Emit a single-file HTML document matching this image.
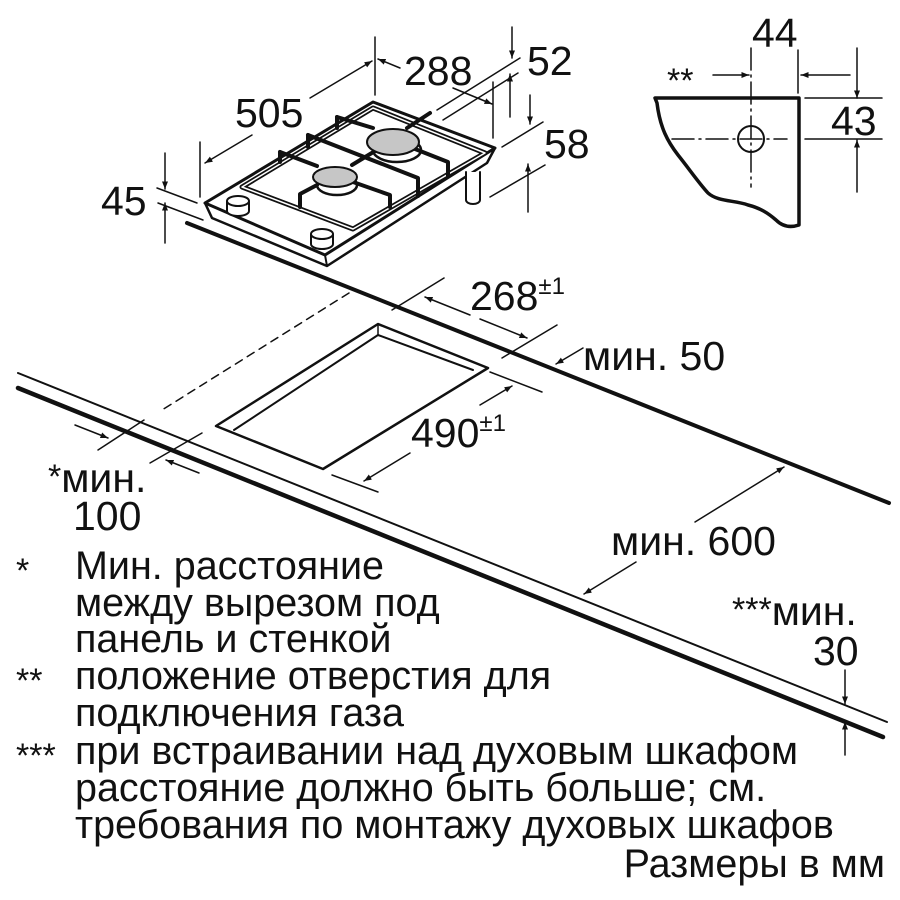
<!DOCTYPE html>
<html><head><meta charset="utf-8"><style>
html,body{margin:0;padding:0;background:#fff}
svg{display:block}
text{font-family:"Liberation Sans",Arial,sans-serif;fill:#111}
</style></head><body>
<svg width="900" height="900" viewBox="0 0 900 900" xmlns="http://www.w3.org/2000/svg">
<defs>
<marker id="a" viewBox="0 0 10 10" refX="10" refY="5" markerWidth="5" markerHeight="5" orient="auto" markerUnits="strokeWidth"><path d="M0,1 L10,5 L0,9 z" fill="#111"/></marker>
</defs>
<g stroke="#111" fill="none" stroke-linecap="round" stroke-linejoin="round">
<line x1="187" y1="223" x2="889" y2="503" stroke-width="4"/>
<line x1="18" y1="373" x2="887" y2="722" stroke-width="2"/>
<line x1="18" y1="388" x2="883" y2="737" stroke-width="4.5"/>
<polygon points="378,324 488,368 323,469 216,426" stroke-width="2.5"/>
<polyline points="234,430 378,335 473,370" stroke-width="2"/>
<line x1="378" y1="324" x2="378" y2="335" stroke-width="1.5"/>
<line x1="349" y1="293" x2="162" y2="410" stroke-width="1.5" stroke-dasharray="8,6"/>
<line x1="144" y1="420" x2="98" y2="450" stroke-width="1.5"/>
<line x1="202" y1="433" x2="150" y2="463" stroke-width="1.5"/>
<line x1="75" y1="425" x2="108" y2="438" stroke-width="1.5" marker-end="url(#a)"/>
<line x1="199" y1="473" x2="166" y2="460" stroke-width="1.5" marker-end="url(#a)"/>
<line x1="444" y1="278" x2="392" y2="310" stroke-width="1.5"/>
<line x1="557" y1="325" x2="502" y2="358" stroke-width="1.5"/>
<line x1="470" y1="315" x2="425" y2="297" stroke-width="1.5" marker-end="url(#a)"/>
<line x1="480" y1="319" x2="527" y2="338" stroke-width="1.5" marker-end="url(#a)"/>
<line x1="583" y1="348" x2="556" y2="364" stroke-width="1.5" marker-end="url(#a)"/>
<line x1="490" y1="372" x2="542" y2="392" stroke-width="1.5"/>
<line x1="332" y1="475" x2="378" y2="492" stroke-width="1.5"/>
<line x1="480" y1="405" x2="512" y2="386" stroke-width="1.5" marker-end="url(#a)"/>
<line x1="410" y1="453" x2="364" y2="481" stroke-width="1.5" marker-end="url(#a)"/>
<line x1="695" y1="522" x2="784" y2="467" stroke-width="1.5" marker-end="url(#a)"/>
<line x1="636" y1="562" x2="584" y2="594" stroke-width="1.5" marker-end="url(#a)"/>
<line x1="845" y1="670" x2="845" y2="704" stroke-width="1.5" marker-end="url(#a)"/>
<line x1="845" y1="755" x2="845" y2="722" stroke-width="1.5" marker-end="url(#a)"/>

<polygon points="205,203 373,102 495,148 325,255" stroke-width="3" fill="#fff"/>
<polyline points="205,203 212,218 327,266 487,163 495,148" stroke-width="2.5"/>
<line x1="325" y1="255" x2="327" y2="266" stroke-width="2"/>
<polygon points="242,187 373,108 485,153 353,229" stroke-width="5"/>
<polygon points="242,187 373,108 485,153 353,229" stroke-width="1.5" stroke="#fff"/>
<g stroke-width="4">
<polyline points="280,152 317,166"/>
<polyline points="308,135 418,178 418,196"/>
<polyline points="337,117 373,128"/>
<polyline points="430,113 407,128"/>
<polyline points="410,147 448,162 448,176"/>
<polyline points="380,148 352,165"/>
<polyline points="300,207 300,194 317,185"/>
<polyline points="353,182 390,195 390,207"/>
<line x1="280" y1="152" x2="280" y2="162"/>
<line x1="308" y1="135" x2="308" y2="147"/>
<line x1="337" y1="117" x2="337" y2="128"/>
</g>
<ellipse cx="397" cy="150" rx="24" ry="12" stroke-width="2.5"/>
<ellipse cx="393" cy="142" rx="26" ry="13" fill="#c6c6c6" stroke-width="2"/>
<ellipse cx="337" cy="185" rx="20" ry="10" stroke-width="2.5"/>
<ellipse cx="335" cy="177" rx="22" ry="10" fill="#c6c6c6" stroke-width="2"/>
<path d="M227,201 v10 a11,5 0 0 0 22,0 v-10" fill="#fff" stroke-width="2"/>
<ellipse cx="238" cy="201" rx="11" ry="5" fill="#fff" stroke-width="2"/>
<path d="M311,234 v10 a11,5 0 0 0 22,0 v-10" fill="#fff" stroke-width="2"/>
<ellipse cx="322" cy="234" rx="11" ry="5" fill="#fff" stroke-width="2"/>
<path d="M466,172 v28 a7,4 0 0 0 14,0 v-28" fill="#fff" stroke-width="2"/>
<line x1="200" y1="142" x2="200" y2="197" stroke-width="1.5"/>
<line x1="252" y1="135" x2="205" y2="163" stroke-width="1.5" marker-end="url(#a)"/>
<line x1="310" y1="98" x2="372" y2="61" stroke-width="1.5" marker-end="url(#a)"/>
<line x1="375" y1="37" x2="375" y2="95" stroke-width="1.5"/>
<line x1="400" y1="68" x2="378" y2="59" stroke-width="1.5" marker-end="url(#a)"/>
<line x1="453" y1="88" x2="492" y2="104" stroke-width="1.5" marker-end="url(#a)"/>
<line x1="493" y1="82" x2="493" y2="138" stroke-width="1.5"/>
<line x1="437" y1="110" x2="520" y2="58" stroke-width="1.5"/>
<line x1="443" y1="120" x2="518" y2="73" stroke-width="1.5"/>
<line x1="512" y1="27" x2="512" y2="58" stroke-width="1.5" marker-end="url(#a)"/>
<line x1="510" y1="117" x2="510" y2="74" stroke-width="1.5" marker-end="url(#a)"/>
<line x1="502" y1="147" x2="543" y2="122" stroke-width="1.5"/>
<line x1="490" y1="197" x2="545" y2="165" stroke-width="1.5"/>
<line x1="530" y1="95" x2="530" y2="124" stroke-width="1.5" marker-end="url(#a)"/>
<line x1="528" y1="212" x2="528" y2="164" stroke-width="1.5" marker-end="url(#a)"/>
<line x1="157" y1="188" x2="197" y2="203" stroke-width="1.5"/>
<line x1="158" y1="203" x2="203" y2="220" stroke-width="1.5"/>
<line x1="165" y1="153" x2="165" y2="189" stroke-width="1.5" marker-end="url(#a)"/>
<line x1="165" y1="243" x2="165" y2="203" stroke-width="1.5" marker-end="url(#a)"/>

<path d="M655,98 L799,98 L799,225 C790,228 782,226 776,220 C768,213 760,208 748,205 C735,200 718,202 708,193 C698,182 690,170 678,155 C668,142 660,128 657,103 Z" stroke-width="3.5"/>
<circle cx="751" cy="139" r="13" stroke-width="2"/>
<line x1="751" y1="48" x2="751" y2="187" stroke-width="1.5" stroke-dasharray="22,5,2,5"/>
<line x1="672" y1="139" x2="787" y2="139" stroke-width="1.5" stroke-dasharray="22,5,2,5"/>
<line x1="805" y1="139" x2="882" y2="139" stroke-width="1.5"/>
<line x1="805" y1="98" x2="882" y2="98" stroke-width="1.5"/>
<line x1="798" y1="50" x2="798" y2="93" stroke-width="1.5"/>
<line x1="713" y1="75" x2="749" y2="75" stroke-width="1.5" marker-end="url(#a)"/>
<line x1="850" y1="75" x2="801" y2="75" stroke-width="1.5" marker-end="url(#a)"/>
<line x1="857" y1="48" x2="857" y2="98" stroke-width="1.5" marker-end="url(#a)"/>
<line x1="857" y1="192" x2="857" y2="140" stroke-width="1.5" marker-end="url(#a)"/>
</g>

<g font-size="41">
<text x="404" y="85">288</text>
<text x="527" y="75">52</text>
<text x="235" y="127">505</text>
<text x="544" y="158">58</text>
<text x="101" y="215">45</text>
<text x="752" y="47">44</text>
<text x="831" y="135">43</text>
<text x="667" y="92" font-size="34">**</text>
<text x="470" y="310">268<tspan font-size="24" dy="-16">±1</tspan></text>
<text x="583" y="370">мин. 50</text>
<text x="411" y="447">490<tspan font-size="24" dy="-16">±1</tspan></text>
<text x="48" y="492"><tspan font-size="34" dy="-4">*</tspan><tspan dy="4">мин.</tspan></text>
<text x="73" y="530">100</text>
<text x="611" y="555">мин. 600</text>
<text x="732" y="625"><tspan font-size="34" dy="-4">***</tspan><tspan dy="4">мин.</tspan></text>
<text x="813" y="665">30</text>
</g>
<g font-size="39.5">
<text x="16" y="582" font-size="34">*</text>
<text x="16" y="692" font-size="34">**</text>
<text x="16" y="767" font-size="34">***</text>
<text x="75" y="579">Мин. расстояние</text>
<text x="75" y="616">между вырезом под</text>
<text x="75" y="652">панель и стенкой</text>
<text x="75" y="689">положение отверстия для</text>
<text x="75" y="726">подключения газа</text>
<text x="75" y="764">при встраивании над духовым шкафом</text>
<text x="75" y="801">расстояние должно быть больше; см.</text>
<text x="75" y="838">требования по монтажу духовых шкафов</text>
<text x="885" y="877" text-anchor="end">Размеры в мм</text>
</g>
</svg>
</body></html>
